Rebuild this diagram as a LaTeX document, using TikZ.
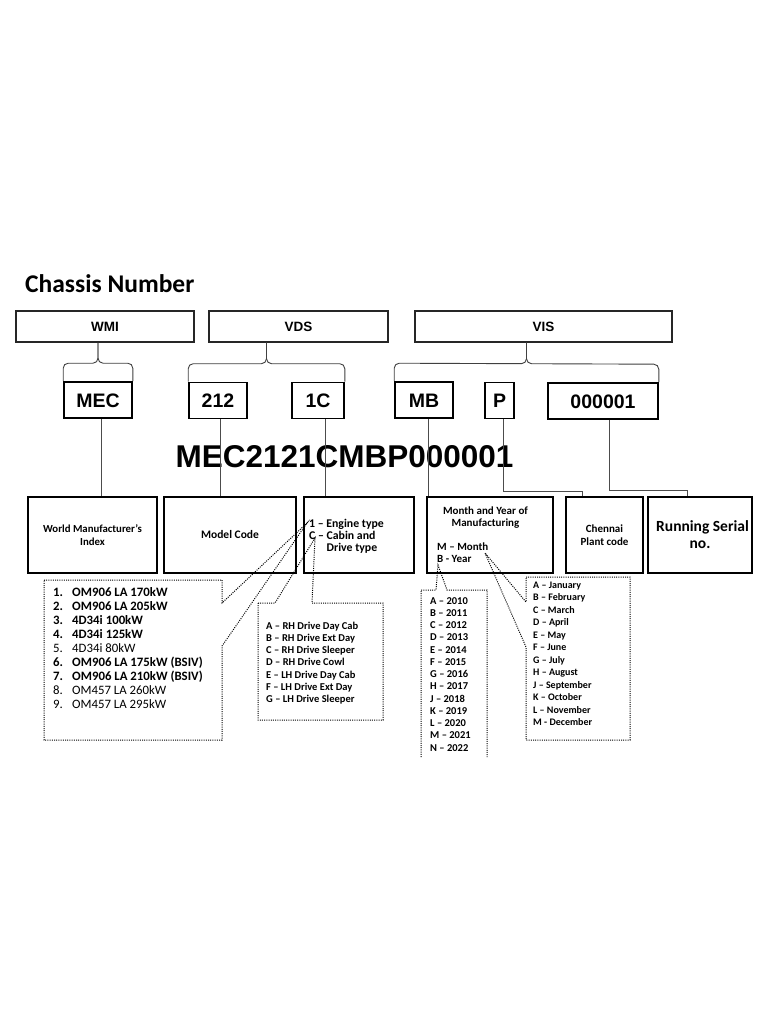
\documentclass[tikz,border=0pt]{standalone}
\usepackage{fontspec}
\setmainfont{Carlito}
\newfontfamily\arialfont{Liberation Sans}
\usetikzlibrary{calc}

\begin{document}
\begin{tikzpicture}[x=1pt,y=-1pt,part/.style={draw=black!85,line width=1.1pt,minimum height=31pt,inner sep=0pt,font=\arialfont\bfseries\fontsize{13.5}{15}\selectfont},code/.style={draw,line width=1.6pt,minimum height=36pt,inner sep=0pt,text height=14pt,text depth=0pt,font=\arialfont\bfseries\fontsize{19.5}{22}\selectfont},desc/.style={draw,line width=1.2pt,minimum height=76pt,inner sep=0pt,align=center,font=\bfseries\fontsize{11}{13}\selectfont},link/.style={draw=black!70,line width=0.9pt},group/.style={draw=black!75,line width=0.9pt,rounded corners=5pt},callout/.style={line width=1pt,dash pattern=on 1pt off 1.2pt},listtext/.style={anchor=base west,inner sep=0pt}]
\fill[white] (0,0) rectangle (768,1024);
\useasboundingbox (0,0) rectangle (768,1024);
\node[anchor=base west,inner sep=0pt,font=\bfseries\fontsize{25.5}{30}\selectfont] (title) at (25,292) {Chassis Number};
% sections
\node[part,minimum width=178pt] (wmi) at (105,326.5) {WMI};
\node[part,minimum width=179pt] (vds) at (298.5,326.5) {VDS};
\node[part,minimum width=257pt] (vis) at (543.5,326.5) {VIS};
% code parts
\node[code,minimum width=68pt] (codemec) at (98,400) {MEC};
\node[code,minimum width=58pt] (codemodel) at (218,400.5) {212};
\node[code,minimum width=52pt] (codeengine) at (318,400.5) {1C};
\node[code,minimum width=58pt] (codedate) at (424,400) {MB};
\node[code,minimum width=29pt] (codeplant) at (499.5,400.5) {P};
\node[code,minimum width=110pt] (codeserial) at (603,401) {000001};
% braces
\coordinate (midwmi) at ($(codemec.north west)!0.5!(codemec.north east)+(0,-18)$);
\coordinate (midvds) at ($(codemodel.north west)!0.5!(codeengine.north east)+(0,-18)$);
\coordinate (midvis) at ($(codedate.north west)!0.5!(codeserial.north east)+(0,-18)$);
\draw[group] (codemec.north west) -- ++(0,-18) -- (midwmi) -- (midwmi |- wmi.south);
\draw[group] (codemec.north east) -- ++(0,-18) -- (midwmi) -- (midwmi |- wmi.south);
\draw[group] (codemodel.north west) -- ++(0,-18) -- (midvds) -- (midvds |- vds.south);
\draw[group] (codeengine.north east) -- ++(0,-18) -- (midvds) -- (midvds |- vds.south);
\draw[group] (codedate.north west) -- ++(0,-18) -- (midvis) -- (midvis |- vis.south);
\draw[group] (codeserial.north east) -- ++(0,-18) -- (midvis) -- (midvis |- vis.south);
\node[anchor=base,inner sep=0pt,font=\arialfont\bfseries\fontsize{31.5}{36}\selectfont] (fullcode) at (344.5,467) {MEC2121CMBP000001};
% descriptions
\node[desc,minimum width=129pt,font=\bfseries\fontsize{10.8}{13}\selectfont] (descwmi) at (92.5,535) {World Manufacturer's\\Index};
\node[desc,minimum width=132pt,font=\bfseries\fontsize{11.5}{13}\selectfont] (descmodel) at (230,535) {Model Code};
\node[desc,minimum width=110pt] (descengine) at (359,535) {};
\node[desc,minimum width=126pt] (descdate) at (490,535) {};
\node[desc,minimum width=77pt] (descplant) at (604.5,535) {Chennai\\Plant code};
\node[desc,minimum width=104pt,font=\bfseries\fontsize{15.5}{17}\selectfont] (descserial) at (700,535) {\hspace*{5pt}Running Serial\\no.};
\node[listtext,font=\bfseries\fontsize{11.8}{12}\selectfont] (enginekey) at (309,527) {\begin{tabular}[t]{@{}l@{}}1 -- Engine type\\C -- Cabin and\\\hphantom{C -- }Drive type\end{tabular}};
\node[anchor=base,inner sep=0pt,font=\bfseries\fontsize{11}{12.5}\selectfont] (datetitle) at (485.5,514) {\begin{tabular}[t]{@{}c@{}}Month and Year of\\Manufacturing\end{tabular}};
\node[listtext,font=\bfseries\fontsize{11}{12.5}\selectfont] (datekey) at (437,550) {\begin{tabular}[t]{@{}l@{}}M -- Month\\B - Year\end{tabular}};
% links
\draw[link] ([xshift=3pt]codemec.south) -- ([xshift=3pt]codemec.south |- descwmi.north);
\draw[link] ([xshift=2pt]codemodel.south) -- ([xshift=2pt]codemodel.south |- descmodel.north);
\draw[link] ([xshift=7pt]codeengine.south) -- ([xshift=7pt]codeengine.south |- descengine.north);
\draw[link] ([xshift=4pt]codedate.south) -- ([xshift=4pt]codedate.south |- descdate.north);
\draw[link] ([xshift=3.5pt]codeplant.south) -- ++(0,72) -| ([xshift=-22.5pt]descplant.north);
\draw[link] ([xshift=6pt]codeserial.south) -- ++(0,71) -| ([xshift=-13pt]descserial.north);
% callouts
\coordinate (tipone) at (307,523);
\coordinate (tipc) at (315,538);
\coordinate (tipb) at (438,565);
\coordinate (tipm) at (485,553);
\draw[callout] (44,580) -- (222,580) -- (222,603) -- (tipone) -- (222,646) -- (222,740) -- (44,740) -- cycle;
\draw[callout] (258,603) -- (275,603) -- (tipc) -- (312,603) -- (383,603) -- (383,720) -- (258,720) -- cycle;
\draw[callout] (421,757) -- (421,590) -- (436,590) -- (tipb) -- (447,590) -- (487,590) -- (487,757);
\draw[callout] (526,577) -- (630,577) -- (630,740) -- (526,740) -- (526,647) -- (tipm) -- (526,602) -- cycle;
\node[listtext,font=\fontsize{12.8}{14.1}\selectfont] (listengine) at (53,596) {\begin{tabular}[t]{@{}p{19pt}@{}l@{}}
\textbf{1.} & \textbf{OM906 LA 170kW}\\
\textbf{2.} & \textbf{OM906 LA 205kW}\\
\textbf{3.} & \textbf{4D34i 100kW}\\
\textbf{4.} & \textbf{4D34i 125kW}\\
5. & 4D34i 80kW\\
\textbf{6.} & \textbf{OM906 LA 175kW (BSIV)}\\
\textbf{7.} & \textbf{OM906 LA 210kW (BSIV)}\\
8. & OM457 LA 260kW\\
9. & OM457 LA 295kW
\end{tabular}};
\node[listtext,font=\bfseries\fontsize{10.5}{12.3}\selectfont] (listcabin) at (266,629) {\begin{tabular}[t]{@{}l@{}}
A -- RH Drive Day Cab\\
B -- RH Drive Ext Day\\
C -- RH Drive Sleeper\\
D -- RH Drive Cowl\\
E -- LH Drive Day Cab\\
F -- LH Drive Ext Day\\
G -- LH Drive Sleeper
\end{tabular}};
\node[listtext,font=\bfseries\fontsize{10.5}{12.25}\selectfont] (listyear) at (430,604) {\begin{tabular}[t]{@{}l@{}}
A -- 2010\\
B -- 2011\\
C -- 2012\\
D -- 2013\\
E -- 2014\\
F -- 2015\\
G -- 2016\\
H -- 2017\\
J -- 2018\\
K -- 2019\\
L -- 2020\\
M -- 2021\\
N -- 2022
\end{tabular}};
\node[listtext,font=\bfseries\fontsize{10}{12.5}\selectfont] (listmonth) at (533,588) {\begin{tabular}[t]{@{}l@{}}
A -- January\\
B -- February\\
C -- March\\
D -- April\\
E -- May\\
F -- June\\
G -- July\\
H -- August\\
J -- September\\
K -- October\\
L -- November\\
M - December
\end{tabular}};
\end{tikzpicture}
\end{document}
